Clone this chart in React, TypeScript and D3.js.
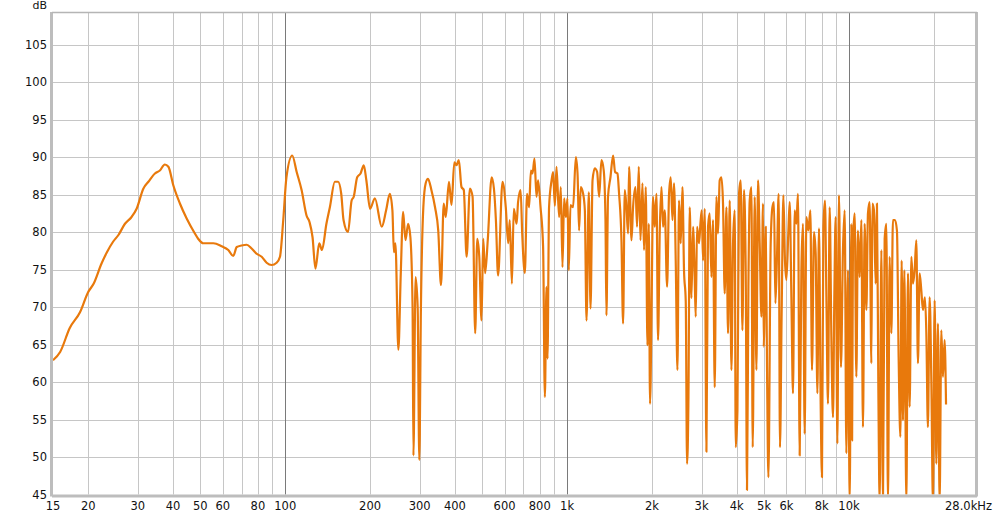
import React from "react";
import * as d3 from "d3";

const freqHz: number[] = [
  15, 15.9, 17.2, 18.7, 20.0, 20.9, 22.3, 23.3, 24.5, 25.6, 27.0, 28.5, 29.7, 31.4, 32.7, 34.5, 35.9, 37.4, 38.5, 40.1,
  42.3, 44.7, 47.8, 49.1, 51.2, 55.6, 59.5, 62.8, 65.4, 67.3, 70.0, 73.0, 76.0, 79.2, 82.5, 85.9, 89.5, 93.2, 95.8, 98.4,
  101, 105.9, 109.8, 114.3, 119, 122, 125, 128, 132, 135, 140, 144, 150, 154, 158, 161, 167, 172, 175, 180,
  185, 190, 194, 200, 208, 220, 228, 235, 240, 243, 246, 252, 257, 262, 267, 273, 278, 283, 285, 290,
  295, 299, 303, 309, 315, 321, 330, 340, 349, 357, 365, 371, 381, 389, 398, 405, 413, 422, 430, 440,
  452, 462, 472, 480, 488, 497, 504, 512, 523, 540, 550, 559, 569, 590, 606, 618, 626, 637, 647, 662,
  670, 684, 693, 708, 721, 733, 744, 754, 766, 779, 789, 805, 822, 834, 845, 852, 863, 881, 892, 905,
  917, 937, 950, 963, 976, 990, 1003, 1014, 1028, 1050, 1074, 1089, 1103, 1118, 1140, 1156, 1172, 1194, 1211, 1231,
  1254, 1278, 1299, 1324, 1349, 1368, 1379, 1397, 1425, 1456, 1480, 1509, 1529, 1559, 1580, 1602, 1624, 1646, 1659, 1692,
  1714, 1748, 1771, 1796, 1821, 1851, 1875, 1901, 1928, 1949, 1969, 1997, 2018, 2046, 2075, 2102, 2132, 2162, 2190, 2221,
  2263, 2300, 2332, 2365, 2395, 2429, 2463, 2495, 2530, 2566, 2599, 2636, 2664, 2695, 2723, 2761, 2798, 2837, 2860, 2891,
  2938, 2972, 3004, 3036, 3078, 3121, 3162, 3206, 3251, 3293, 3340, 3387, 3431, 3479, 3528, 3574, 3624, 3675, 3723, 3776,
  3828, 3879, 3933, 3965, 4021, 4073, 4130, 4188, 4243, 4302, 4348, 4398, 4445, 4507, 4555, 4630, 4695, 4757, 4823, 4891,
  4955, 4984, 5066, 5120, 5179, 5276, 5351, 5420, 5483, 5555, 5632, 5692, 5772, 5853, 5929, 5998, 6097, 6162, 6248, 6330,
  6418, 6508, 6593, 6686, 6779, 6868, 6964, 7062, 7178, 7297, 7393, 7515, 7620, 7726, 7828, 7937, 8022, 8114, 8220, 8316,
  8424, 8542, 8661, 8776, 8876, 8971, 9097, 9216, 9368, 9522, 9656, 9790, 9920, 10058, 10198, 10260, 10332, 10476, 10622, 10762,
  10911, 11066, 11210, 11368, 11527, 11679, 11842, 12007, 12106, 12266, 12437, 12569, 12715, 12850, 13030, 13202, 13386, 13573, 13752, 13944,
  14140, 14322, 14559, 14799, 15006, 15218, 15380, 15544, 15724, 15981, 16192, 16418, 16650, 16866, 17102, 17338, 17568, 17813, 18061, 18300,
  18601, 18816, 19061, 19330, 19600, 19859, 20136, 20417, 20683, 20972, 21268, 21544, 21848, 22100,
];

const levelDb: number[] = [
  62.9, 64.0, 67.2, 69.3, 72.0, 73.1, 75.8, 77.3, 78.7, 79.6, 81.1, 82.0, 83.1, 85.8, 86.7, 87.8, 88.2, 89.0, 88.7, 86.2,
  83.8, 81.8, 79.8, 79.1, 78.5, 78.5, 78.1, 77.6, 76.8, 78.0, 78.2, 78.3, 77.8, 77.1, 76.7, 75.9, 75.6, 75.9, 76.7, 81.6,
  87.3, 90.2, 88.0, 85.6, 82.2, 81.3, 79.3, 75.1, 78.5, 77.6, 81.1, 83.3, 86.7, 86.7, 85.1, 81.6, 80.0, 84.2, 84.7, 87.3,
  87.8, 88.9, 86.9, 83.1, 84.5, 80.7, 82.9, 85.1, 82.9, 77.3, 78.5, 64.3, 74.5, 82.7, 78.9, 81.1, 79.3, 70.0, 50.2, 74.0,
  70.0, 49.6, 70.0, 83.3, 86.5, 87.1, 85.6, 83.3, 80.2, 72.9, 83.8, 82.0, 86.7, 83.6, 89.3, 88.9, 89.6, 86.0, 85.6, 76.7,
  85.8, 84.7, 66.5, 79.1, 76.7, 68.2, 79.1, 74.5, 78.9, 87.3, 85.8, 81.6, 74.2, 86.7, 83.3, 78.5, 81.6, 73.1, 83.1, 81.1,
  84.0, 85.6, 79.8, 74.5, 85.1, 83.3, 88.2, 87.8, 89.8, 84.7, 86.9, 83.3, 78.0, 58.0, 72.7, 63.1, 83.3, 86.9, 88.0, 83.5,
  88.7, 82.0, 86.0, 75.3, 84.5, 82.0, 84.5, 74.9, 83.6, 83.3, 90.0, 87.8, 80.2, 86.0, 85.1, 82.9, 68.2, 85.3, 69.8, 86.9,
  88.5, 88.0, 84.7, 89.6, 88.2, 81.8, 68.9, 84.7, 87.3, 90.2, 88.0, 87.8, 85.1, 78.9, 67.8, 85.6, 83.3, 79.8, 88.7, 78.9,
  83.3, 86.0, 80.7, 88.7, 78.9, 86.5, 77.6, 86.0, 64.9, 81.1, 57.1, 72.2, 84.7, 80.7, 85.1, 65.6, 80.2, 86.0, 80.7, 82.9,
  72.7, 85.1, 87.3, 81.6, 86.5, 76.2, 61.6, 84.2, 78.5, 86.0, 74.9, 70.8, 49.1, 58.0, 83.3, 71.2, 80.7, 73.6, 68.7, 80.7,
  78.5, 81.1, 82.9, 76.2, 83.1, 50.7, 80.7, 82.5, 74.0, 81.6, 59.3, 84.7, 79.8, 86.9, 87.3, 83.8, 71.8, 83.3, 66.5, 84.2,
  61.6, 78.5, 82.9, 51.3, 56.2, 85.1, 86.9, 66.9, 85.6, 74.9, 45.6, 72.7, 84.2, 86.0, 51.3, 84.7, 61.6, 86.9, 78.5, 68.7,
  83.8, 64.7, 80.7, 62.0, 47.3, 78.5, 83.3, 84.0, 70.5, 76.7, 85.1, 51.3, 69.6, 84.9, 76.2, 73.6, 80.2, 84.0, 71.3, 58.5,
  82.9, 81.1, 85.1, 50.2, 74.9, 81.1, 53.1, 82.0, 80.2, 82.9, 61.6, 80.0, 77.1, 58.5, 80.5, 57.1, 47.3, 80.7, 84.2, 71.3,
  57.1, 83.3, 66.0, 55.3, 71.8, 82.0, 51.8, 84.9, 62.0, 77.6, 82.9, 50.5, 74.9, 44.0, 81.1, 52.2, 78.9, 82.5, 60.7, 80.2,
  74.0, 81.6, 54.0, 81.1, 69.6, 82.5, 84.0, 62.5, 83.8, 82.9, 73.1, 83.8, 58.9, 44.0, 77.6, 44.0, 79.1, 81.1, 44.0, 76.7,
  66.5, 81.6, 81.6, 80.2, 63.3, 52.7, 76.2, 54.9, 74.9, 44.0, 74.5, 56.7, 76.7, 73.1, 74.9, 78.9, 62.5, 74.5, 72.2, 69.6,
  71.3, 66.5, 54.0, 71.3, 60.2, 44.0, 70.9, 49.1, 67.8, 44.0, 66.9, 60.7, 65.6, 57.0,
];

const gridFreqs: number[] = [
  20, 30, 40, 50, 60, 70, 80, 90, 100, 200, 300, 400, 500, 600, 700, 800, 900, 1000,
  2000, 3000, 4000, 5000, 6000, 7000, 8000, 9000, 10000, 20000,
];
const decadeFreqs: number[] = [100, 1000, 10000];
const xTickValues: number[] = [15, 20, 30, 40, 50, 60, 80, 100, 200, 300, 400, 600, 800, 1000, 2000, 3000, 4000, 5000, 6000, 8000, 10000];
const xTickLabels: string[] = ["15", "20", "30", "40", "50", "60", "80", "100", "200", "300", "400", "600", "800", "1k", "2k", "3k", "4k", "5k", "6k", "8k", "10k"];
const yTickValues: number[] = [45, 50, 55, 60, 65, 70, 75, 80, 85, 90, 95, 100, 105];

const W = 1000;
const H = 515;
const left = 53;
const right = 975;
const top = 13;
const bottom = 494.5;

export default function App() {
  const x = d3.scaleLog().domain([15, 28000]).range([left, right]);
  const y = d3.scaleLinear().domain([45, 45 + (bottom - top) / 7.5]).range([bottom, top]);
  const pts: [number, number][] = freqHz.map((f, i) => [f, levelDb[i]]);
  const line = d3
    .line<[number, number]>()
    .x((d) => x(d[0]))
    .y((d) => y(d[1]))
    .curve(d3.curveMonotoneX);
  const font = "'DejaVu Sans', Verdana, sans-serif";
  return (
    <svg width={W} height={H} style={{ position: "absolute", left: 0, top: 0, background: "#fff" }}>
      <defs>
        <clipPath id="plot">
          <rect x={left} y={top} width={right - left} height={bottom - top} />
        </clipPath>
      </defs>
      <rect x={0} y={0} width={W} height={H} fill="#fff" />
      {yTickValues.slice(1).map((v) => (
        <line key={"h" + v} x1={left} x2={right} y1={Math.round(y(v)) + 0.5} y2={Math.round(y(v)) + 0.5} stroke="#c6c6c6" strokeWidth={1} />
      ))}
      {gridFreqs.map((f) => (
        <line
          key={"v" + f}
          x1={Math.round(x(f)) + 0.5}
          x2={Math.round(x(f)) + 0.5}
          y1={top}
          y2={bottom}
          stroke={decadeFreqs.includes(f) ? "#7a7a7a" : "#c6c6c6"}
          strokeWidth={1}
        />
      ))}
      <g clipPath="url(#plot)">
        <path d={line(pts) || ""} fill="none" stroke="#e8790c" strokeWidth={2.2} strokeLinejoin="round" />
      </g>
      <line x1={left - 1.5} x2={left - 1.5} y1={top - 1} y2={bottom + 2} stroke="#bdbdbd" strokeWidth={3} />
      <line x1={left - 1} x2={right + 2} y1={bottom + 1.5} y2={bottom + 1.5} stroke="#bdbdbd" strokeWidth={3} />
      <line x1={right + 1.5} x2={right + 1.5} y1={top - 1} y2={bottom + 2} stroke="#bdbdbd" strokeWidth={3} />
      <line x1={left - 1} x2={right + 2} y1={top - 0.5} y2={top - 0.5} stroke="#b5b5b5" strokeWidth={1.5} />
      {yTickValues.map((v) => (
        <text key={"yl" + v} x={47} y={y(v) + 4} textAnchor="end" fontSize={11.5} fontFamily={font} fill="#111">
          {v}
        </text>
      ))}
      <text x={47} y={9} textAnchor="end" fontSize={11} fontFamily={font} fill="#111">
        dB
      </text>
      {xTickValues.map((v, i) => (
        <text key={"xl" + v} x={x(v)} y={510} textAnchor="middle" fontSize={11.5} fontFamily={font} fill="#111">
          {xTickLabels[i]}
        </text>
      ))}
      <text x={992} y={510} textAnchor="end" fontSize={11.5} fontFamily={font} fill="#111">
        28.0kHz
      </text>
    </svg>
  );
}
